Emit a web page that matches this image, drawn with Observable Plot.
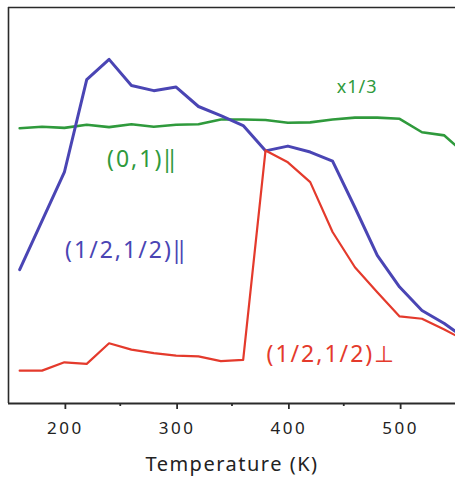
<!DOCTYPE html>
<html><head><meta charset="utf-8">
<script src="https://cdn.jsdelivr.net/npm/d3@7"></script>
<script src="https://cdn.jsdelivr.net/npm/@observablehq/plot@0.6"></script>
<style>
body{margin:0;background:#fff}
svg{display:block}
.tk text{letter-spacing:2.5px}
.xl text{letter-spacing:1.5px}
.lb text{letter-spacing:2px}
.lb3 text{letter-spacing:1px}
</style>
</head><body><div id="chart"></div>
<script>
// Temperature (K) and intensity (arbitrary units)
const blueTemps  = [160, 200, 220, 240, 260, 280, 300, 320, 340, 360, 380, 400, 420, 440, 460, 480, 500, 520, 540, 550];
const blueValues = [33.8, 58.4, 81.8, 86.9, 80.3, 79.0, 79.9, 75.0, 72.7, 70.2, 63.8, 65.0, 63.5, 61.2, 49.5, 37.4, 29.4, 23.5, 20.2, 18.2];

const redTemps  = [160, 180, 200, 220, 240, 260, 280, 300, 320, 340, 360, 380, 400, 420, 440, 460, 480, 500, 520, 540, 550];
const redValues = [8.3, 8.3, 10.4, 10.0, 15.2, 13.6, 12.7, 12.1, 11.9, 10.7, 11.0, 63.9, 60.9, 55.9, 43.3, 34.4, 28.1, 22.0, 21.4, 18.7, 17.2];

const greenTemps  = [160, 180, 200, 220, 240, 260, 280, 300, 320, 340, 360, 380, 400, 420, 440, 460, 480, 500, 520, 540, 550];
const greenValues = [69.5, 69.9, 69.6, 70.4, 69.8, 70.5, 69.9, 70.4, 70.5, 71.7, 71.7, 71.6, 70.9, 71.0, 71.7, 72.2, 72.2, 71.9, 68.5, 67.7, 65.2];

const majorTicks = [200, 300, 400, 500];
const minorTicks = [250, 350, 450];
const seriesLabels = ["(0,1)\u2016", "(1/2,1/2)\u2016", "(1/2,1/2)\u22A5", "x1/3"];
const xLabel = "Temperature (K)";

const colors = {blue: "#4a45b4", green: "#2f9a3c", red: "#e43a2c"};
const font = "'Noto Sans', 'Open Sans', sans-serif";

const toRows = (ts, vs) => ts.map((t, i) => ({t, v: vs[i]}));
const blue = toRows(blueTemps, blueValues);
const red = toRows(redTemps, redValues);
const green = toRows(greenTemps, greenValues);

const chart = Plot.plot({
  width: 455,
  height: 477,
  marginLeft: 8,
  marginRight: 0,
  marginTop: 7,
  marginBottom: 74,
  style: {fontFamily: font, fontSize: "17px", color: "#222", background: "#fff"},
  x: {domain: [150, 550]},
  y: {domain: [0, 100], axis: null},
  marks: [
    Plot.ruleX([150], {stroke: "#2a2a2a", strokeWidth: 1.6}),
    Plot.ruleY([100], {stroke: "#2a2a2a", strokeWidth: 1.6}),
    Plot.line(green, {x: "t", y: "v", stroke: colors.green, strokeWidth: 2.6, clip: true}),
    Plot.line(blue, {x: "t", y: "v", stroke: colors.blue, strokeWidth: 3, clip: true}),
    Plot.line(red, {x: "t", y: "v", stroke: colors.red, strokeWidth: 2.2, clip: true}),
    Plot.ruleY([0], {stroke: "#2a2a2a", strokeWidth: 2}),
    Plot.axisX({ticks: majorTicks, tickSize: 6, tickPadding: 12, label: null, stroke: "#2a2a2a", strokeWidth: 1.8, className: "tk", dx: 1}),
    Plot.axisX({ticks: minorTicks, tickSize: 3, tickFormat: () => "", label: null, stroke: "#2a2a2a", strokeWidth: 1.8}),
    Plot.text([seriesLabels[0]], {x: 269, y: 61.6, text: d => d, fill: colors.green, fontSize: 23, fontFamily: font, className: "lb", dx: 1}),
    Plot.text([seriesLabels[1]], {x: 254.5, y: 38.6, text: d => d, fill: colors.blue, fontSize: 23, fontFamily: font, className: "lb", dx: 1}),
    Plot.text([seriesLabels[2]], {x: 438, y: 12.4, text: d => d, fill: colors.red, fontSize: 23, fontFamily: font, className: "lb", dx: 1}),
    Plot.text([seriesLabels[3]], {x: 462, y: 79.8, text: d => d, fill: colors.green, fontSize: 18, fontFamily: font, className: "lb3"}),
    Plot.text([xLabel], {frameAnchor: "bottom", dy: 67, text: d => d, fill: "#222", fontSize: 20, fontFamily: font, className: "xl"})
  ]
});
document.getElementById("chart").appendChild(chart);
</script>
</body></html>
